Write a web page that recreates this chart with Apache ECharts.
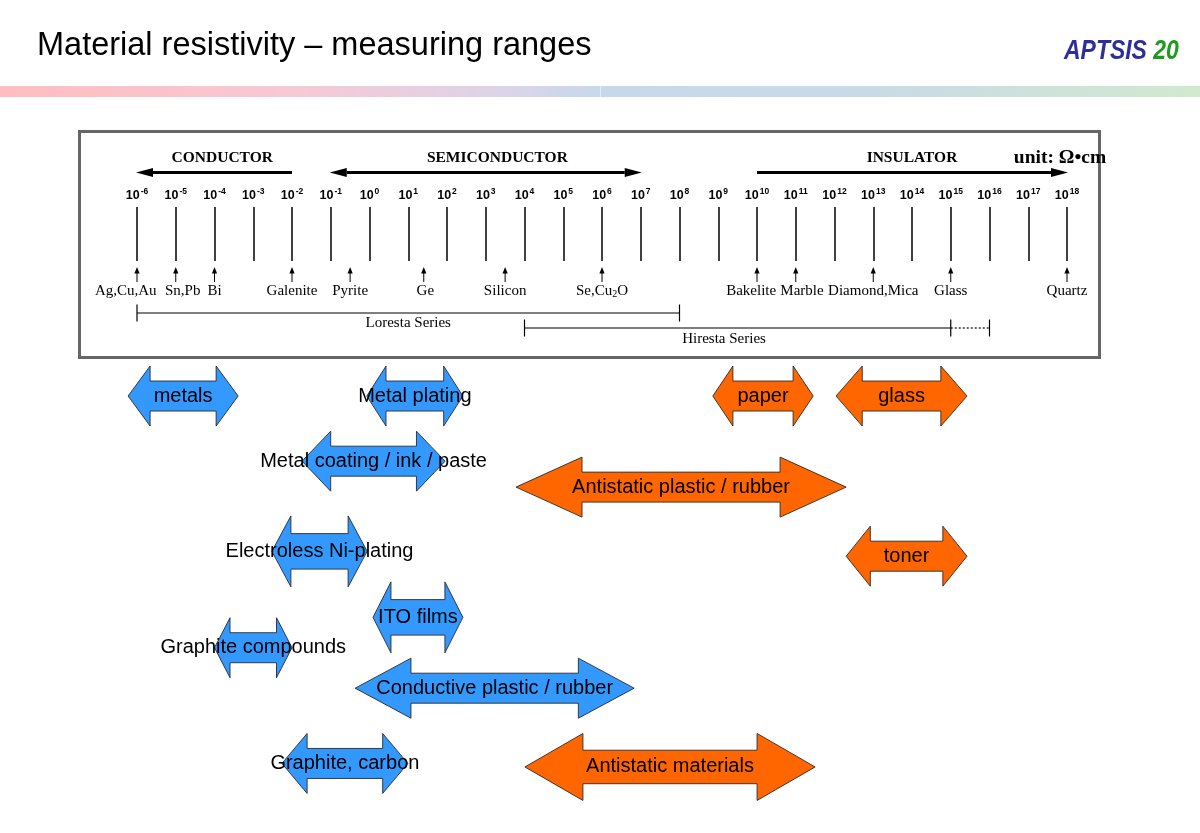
<!DOCTYPE html>
<html><head><meta charset="utf-8">
<script src="https://cdn.jsdelivr.net/npm/echarts@6/dist/echarts.min.js"></script>
<style>html,body{margin:0;padding:0;background:#fff}#c{width:1200px;height:833px}</style>
</head><body><div id="c"></div>
<script>
// ---------------- data ----------------
const decadeMin = -6, decadeMax = 18;           // exponents of the resistivity scale (Ω·cm)
const regionNames = ['CONDUCTOR', 'SEMICONDUCTOR', 'INSULATOR'];
const regionFrom = [-2, -1, 10];
const regionTo = [-6, 7, 18];
const regionHeads = ['end', 'both', 'end'];
const regionLabelAt = [-3.8, 3.3, 14];

const materialNames = ['Ag,Cu,Au', 'Sn,Pb', 'Bi', 'Galenite', 'Pyrite', 'Ge', 'Silicon', 'Se,Cu{s|2}O',
  'Bakelite', 'Marble', 'Diamond,Mica', 'Glass', 'Quartz'];
const materialExp = [-6, -5, -4, -2, -0.5, 1.4, 3.5, 6, 10, 11, 13, 15, 18];
const materialLabelAt = [-6.29, -4.82, -4, -2, -0.5, 1.44, 3.5, 6, 9.85, 11.16, 13, 15, 18];

const instrumentNames = ['Loresta Series', 'Hiresta Series'];
const instrumentFrom = [-6, 4];
const instrumentTo = [8, 15];
const instrumentExtTo = [null, 16];
const instrumentLabelAt = [1, 9.15];

const rangeNames = ['metals', 'Metal plating', 'paper', 'glass', 'Metal coating / ink / paste',
  'Antistatic plastic / rubber', 'Electroless Ni-plating', 'toner', 'ITO films', 'Graphite compounds',
  'Conductive plastic / rubber', 'Graphite, carbon', 'Antistatic materials'];
const rangeFrom = [-6.23, -0.07, 8.86, 12.04, -1.74, 3.78, -2.52, 12.30, 0.09, -4.0, -0.37, -2.26, 4.01];
const rangeTo   = [-3.39, 2.41, 11.45, 15.42, 1.95, 12.30, -0.06, 15.42, 2.41, -2.0, 6.83, 0.99, 11.5];
const rangeLane = [0.91, 0.91, 0.91, 0.91, 2.39, 2.98, 4.44, 4.55, 5.94, 6.63, 7.55, 9.26, 9.34];
const rangeKind = ['conductive', 'conductive', 'antistatic', 'antistatic', 'conductive', 'antistatic',
  'conductive', 'antistatic', 'conductive', 'conductive', 'conductive', 'conductive', 'antistatic'];

// ---------------- styles / layout ----------------
const SERIF = "'Liberation Serif','Times New Roman',serif";
const SANS = "'Liberation Sans',Arial,sans-serif";
const KIND_COLOR = { conductive: '#3399FF', antistatic: '#FF6600' };
const TALL = { 'Electroless Ni-plating': 71, 'ITO films': 71, 'Antistatic materials': 67 };
const L = { regionY: 172.5, regionLabelY: 158, matTipY: 267, matBaseY: 282, matLabelY: 291,
  instY: [313, 328], instLabelY: [323, 339] };

const chart = echarts.init(document.getElementById('c'), null, { renderer: 'canvas' });

function renderRegion(params, api) {
  const i = params.dataIndex;
  const a = api.coord([api.value(0), 0])[0];
  const b = api.coord([api.value(1), 0])[0];
  const y = L.regionY, head = 16, hw = 4.5;
  const dir = b > a ? 1 : -1;
  const both = regionHeads[i] === 'both';
  const children = [];
  children.push({ type: 'line', shape: { x1: both ? a + dir * head : a, y1: y, x2: b - dir * head, y2: y },
    style: { stroke: '#000', lineWidth: 3 } });
  children.push({ type: 'polygon', shape: { points: [[b + dir * 1, y], [b - dir * head, y - hw], [b - dir * head, y + hw]] },
    style: { fill: '#000' } });
  if (both) children.push({ type: 'polygon', shape: { points: [[a - dir * 1, y], [a + dir * head, y - hw], [a + dir * head, y + hw]] },
    style: { fill: '#000' } });
  const lx = api.coord([regionLabelAt[i], 0])[0];
  children.push({ type: 'text', x: lx, y: L.regionLabelY, style: { text: regionNames[i], font: 'bold 15.5px ' + SERIF,
    fill: '#000', align: 'center', verticalAlign: 'middle' } });
  return { type: 'group', children };
}

function renderMaterial(params, api) {
  const i = params.dataIndex;
  const x = api.coord([api.value(0), 0])[0];
  const lx = api.coord([materialLabelAt[i], 0])[0];
  return { type: 'group', children: [
    { type: 'line', shape: { x1: x, y1: L.matBaseY, x2: x, y2: L.matTipY + 5 }, style: { stroke: '#000', lineWidth: 1 } },
    { type: 'polygon', shape: { points: [[x, L.matTipY], [x - 2.6, L.matTipY + 6.5], [x + 2.6, L.matTipY + 6.5]] }, style: { fill: '#000' } },
    { type: 'text', x: lx, y: L.matLabelY, style: { text: materialNames[i], font: '15px ' + SERIF, fill: '#000',
      align: 'center', verticalAlign: 'middle',
      rich: { s: { fontSize: 10, fontFamily: SERIF, lineHeight: 8, padding: [6, 0, 0, 0] } } } }
  ] };
}

function renderInstrument(params, api) {
  const i = params.dataIndex;
  const a = api.coord([api.value(0), 0])[0];
  const b = api.coord([api.value(1), 0])[0];
  const y = L.instY[i], t = 8.5;
  const children = [
    { type: 'line', shape: { x1: a, y1: y, x2: b, y2: y }, style: { stroke: '#000', lineWidth: 1.2 } },
    { type: 'line', shape: { x1: a, y1: y - t, x2: a, y2: y + t }, style: { stroke: '#000', lineWidth: 1.2 } },
    { type: 'line', shape: { x1: b, y1: y - t, x2: b, y2: y + t }, style: { stroke: '#000', lineWidth: 1.2 } }
  ];
  if (instrumentExtTo[i] != null) {
    const c = api.coord([instrumentExtTo[i], 0])[0];
    children.push({ type: 'line', shape: { x1: b, y1: y, x2: c, y2: y }, style: { stroke: '#000', lineWidth: 1.2, lineDash: [2, 2] } });
    children.push({ type: 'line', shape: { x1: c, y1: y - t, x2: c, y2: y + t }, style: { stroke: '#000', lineWidth: 1.2 } });
  }
  const lx = api.coord([instrumentLabelAt[i], 0])[0];
  children.push({ type: 'text', x: lx, y: L.instLabelY[i], style: { text: instrumentNames[i], font: '15px ' + SERIF,
    fill: '#000', align: 'center', verticalAlign: 'middle' } });
  return { type: 'group', children };
}

function renderRange(params, api) {
  const i = params.dataIndex;
  const p0 = api.coord([api.value(0), api.value(2)]);
  const p1 = api.coord([api.value(1), api.value(2)]);
  const x0 = p0[0], x1 = p1[0], y = p0[1];
  const h = (TALL[rangeNames[i]] || 60) / 2;
  const s = h / 2;
  const head = 0.2 * (x1 - x0);
  const pts = [[x0, y], [x0 + head, y - h], [x0 + head, y - s], [x1 - head, y - s], [x1 - head, y - h], [x1, y],
    [x1 - head, y + h], [x1 - head, y + s], [x0 + head, y + s], [x0 + head, y + h]];
  return { type: 'group', children: [
    { type: 'polygon', shape: { points: pts }, style: { fill: KIND_COLOR[rangeKind[i]], stroke: '#2a2a2a', lineWidth: 0.9 } },
    { type: 'text', x: (x0 + x1) / 2, y: y, z2: 10, style: { text: rangeNames[i], font: '20px ' + SANS, fill: '#000',
      align: 'center', verticalAlign: 'middle' } }
  ] };
}

const option = {
  animation: false,
  backgroundColor: '#fff',
  grid: [
    { left: 137, right: 133, top: 207, height: 54 },
    { left: 137, right: 133, top: 356, bottom: 37 }
  ],
  xAxis: [
    { gridIndex: 0, type: 'value', position: 'top', min: decadeMin, max: decadeMax, interval: 1,
      axisLine: { show: false }, axisTick: { show: false },
      splitLine: { show: true, showMinLine: true, showMaxLine: true, lineStyle: { color: '#000', width: 1.5 } },
      axisLabel: { show: true, margin: 4, formatter: v => '{b|10}{s|' + v + '}',
        rich: {
          b: { fontSize: 12.5, fontWeight: 'bold', fontFamily: SANS, color: '#000', lineHeight: 14 },
          s: { fontSize: 8.5, fontWeight: 'bold', fontFamily: SANS, color: '#000', lineHeight: 9, padding: [0, 0, 9, 1] }
        } } },
    { gridIndex: 1, type: 'value', min: decadeMin, max: decadeMax, show: false }
  ],
  yAxis: [
    { gridIndex: 0, type: 'value', min: 0, max: 1, show: false },
    { gridIndex: 1, type: 'value', min: 0, max: 10, inverse: true, show: false }
  ],
  graphic: [
    { type: 'text', x: 37, y: 46, style: { text: 'Material resistivity – measuring ranges', font: '32.5px ' + SANS, fill: '#000', verticalAlign: 'middle' } },
    { type: 'text', x: 1064, y: 51, scaleX: 0.82, style: { text: '{a|APTSIS} {b|20}', font: 'italic bold 28px ' + SANS, verticalAlign: 'middle',
      rich: { a: { fill: '#2E2E9A', color: '#2E2E9A', font: 'italic bold 28px ' + SANS }, b: { color: '#1F9A1F', fill: '#1F9A1F', font: 'italic bold 28px ' + SANS } } } },
    { type: 'rect', shape: { x: 0, y: 86, width: 1200, height: 11 }, style: { fill: new echarts.graphic.LinearGradient(0, 0, 1, 0, [
      { offset: 0, color: '#FFBDC0' }, { offset: 0.25, color: '#F6C9D6' }, { offset: 0.42, color: '#DCD4E8' },
      { offset: 0.5, color: '#C8D8EC' }, { offset: 0.72, color: '#C8DAE6' }, { offset: 0.8, color: '#CCDEE0' }, { offset: 1, color: '#D2E9CF' }]) } },
    { type: 'rect', shape: { x: 600, y: 86, width: 1, height: 11 }, style: { fill: '#E6ECF5' } },
    { type: 'rect', z: -1, shape: { x: 79.5, y: 131.5, width: 1020, height: 226 }, style: { fill: 'none', stroke: '#666', lineWidth: 3 } },
    { type: 'text', x: 1060, y: 158, style: { text: 'unit: Ω•cm', font: 'bold 19.5px ' + SERIF, fill: '#000', align: 'center', verticalAlign: 'middle' } }
  ],
  series: [
    { type: 'custom', name: 'regions', xAxisIndex: 0, yAxisIndex: 0, renderItem: renderRegion,
      data: regionNames.map((n, i) => [regionFrom[i], regionTo[i]]) },
    { type: 'custom', name: 'materials', xAxisIndex: 0, yAxisIndex: 0, renderItem: renderMaterial,
      data: materialNames.map((n, i) => [materialExp[i], 0]) },
    { type: 'custom', name: 'instruments', xAxisIndex: 0, yAxisIndex: 0, renderItem: renderInstrument,
      data: instrumentNames.map((n, i) => [instrumentFrom[i], instrumentTo[i]]) },
    { type: 'custom', name: 'ranges', xAxisIndex: 1, yAxisIndex: 1, renderItem: renderRange,
      data: rangeNames.map((n, i) => [rangeFrom[i], rangeTo[i], rangeLane[i]]) }
  ]
};
chart.setOption(option);
</script></body></html>
